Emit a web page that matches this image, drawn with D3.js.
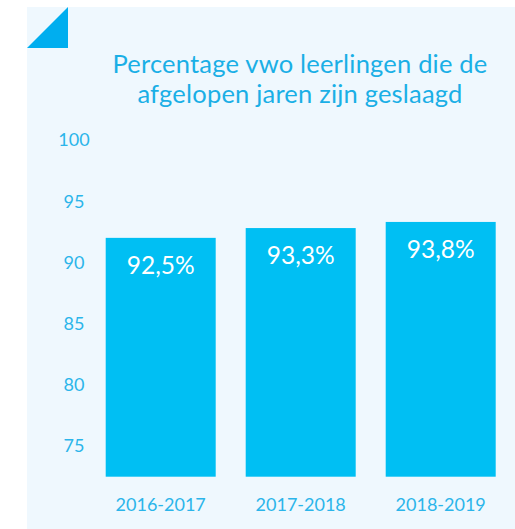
<!DOCTYPE html>
<html>
<head>
<meta charset="utf-8">
<script src="https://cdn.jsdelivr.net/npm/d3@7"></script>
<style>
html,body{margin:0;padding:0;background:#ffffff;}
svg{display:block;}
</style>
</head>
<body>
<script>
const titleLines = ["Percentage vwo leerlingen die de", "afgelopen jaren zijn geslaagd"];
const categories = ["2016-2017", "2017-2018", "2018-2019"];
const values = [92.5, 93.3, 93.8];
const valueLabels = ["92,5%", "93,3%", "93,8%"];
const yTicks = [75, 80, 85, 90, 95, 100];

const W = 515, H = 529;
const font = "Lato, 'Noto Sans', sans-serif";
const svg = d3.select("body").append("svg").attr("width", W).attr("height", H);

// panel
svg.append("rect").attr("x", 27).attr("y", 7).attr("width", W - 27).attr("height", H - 7).attr("fill", "#eff8fe");
// corner triangle
svg.append("path").attr("d", "M27,48 L68,7 L68,48 Z").attr("fill", "#00aeef");

// title
const title = svg.append("text").attr("text-anchor", "middle").attr("fill", "#1aafe6")
  .style("font-family", font).style("font-size", "25.5px").style("letter-spacing", "0.2px");
titleLines.forEach((t, i) => {
  title.append("tspan").attr("x", 300).attr("y", 73 + i * 30).text(t);
});

// scales
const y = d3.scaleLinear().domain([73, 100]).range([476.7, 146]);
const x = d3.scaleBand().domain(categories).range([90.7, 510.7]).paddingInner(30 / 140).paddingOuter(15 / 140);

// y axis labels
const yAxis = d3.axisLeft(y).tickValues(yTicks).tickSize(0).tickFormat(d3.format("d"));
const gy = svg.append("g").attr("transform", "translate(74,0)").call(yAxis);
gy.select(".domain").remove();
gy.selectAll("text").attr("x", 0).attr("dy", "0.32em").attr("text-anchor", "middle")
  .attr("transform", "translate(0,-6)")
  .attr("fill", "#2bb5ea").style("font-family", font).style("font-size", "18px");

// bars
svg.append("g").selectAll("rect").data(values).join("rect")
  .attr("x", (d, i) => x(categories[i]))
  .attr("y", d => y(d))
  .attr("width", x.bandwidth())
  .attr("height", d => y(73) - y(d))
  .attr("fill", "#00bff3");

// value labels
svg.append("g").selectAll("text").data(values).join("text")
  .attr("x", (d, i) => x(categories[i]) + x.bandwidth() / 2)
  .attr("y", d => y(d) + 36)
  .attr("text-anchor", "middle").attr("fill", "#ffffff")
  .style("font-family", font).style("font-size", "24.5px")
  .text((d, i) => valueLabels[i]);

// x axis labels
const xAxis = d3.axisBottom(x).tickSize(0);
const gx = svg.append("g").attr("transform", "translate(0,497)").call(xAxis);
gx.select(".domain").remove();
gx.selectAll("text").attr("y", 0).attr("dy", "0.75em")
  .attr("fill", "#2bb5ea").style("font-family", font).style("font-size", "18px");
</script>
</body>
</html>
